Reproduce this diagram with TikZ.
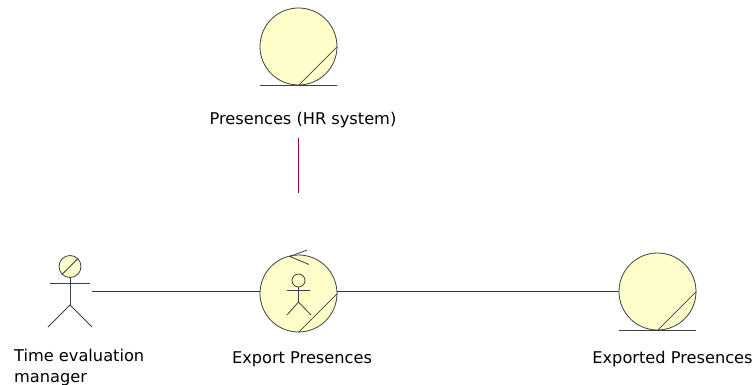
\documentclass[tikz,border=0pt]{standalone}
\usepackage{fontspec}
\setmainfont{DejaVu Sans}
\usetikzlibrary{positioning}
\definecolor{fillyellow}{RGB}{255,255,204}
\definecolor{linkred}{RGB}{153,0,51}
\definecolor{inkgrey}{RGB}{64,64,64}
\tikzset{
	entity/.style={circle,draw=inkgrey,line width=0.8pt,fill=fillyellow,minimum size=77pt,inner sep=0pt},
	head/.style={circle,draw=inkgrey,line width=0.8pt,fill=fillyellow,minimum size=22pt,inner sep=0pt},
	smallhead/.style={circle,draw=inkgrey,line width=0.8pt,minimum size=13pt,inner sep=0pt},
	stroke/.style={draw=inkgrey,line width=0.8pt},
	link/.style={draw=linkred,line width=0.7pt},
	caption/.style={font=\fontsize{16.2}{21}\selectfont,inner sep=0pt,text=black}
}

\begin{document}
\begin{tikzpicture}[x=1pt,y=-1pt]
	\useasboundingbox (0,0) rectangle (755,385);

	% Presences (HR system)
	\node[entity] (hr) at (298.5,46.5) {};
	\draw[stroke] (hr.south) -- (hr.east);
	\draw[stroke] ([xshift=-38.5pt]hr.south) -- ([xshift=38.5pt]hr.south);
	\node[caption] (hrtext) at (303,120) {Presences (HR system)};

	% Actor
	\node[head] (actor) at (70,266.5) {};
	\draw[stroke] (actor.south west) -- (actor.north east);
	\coordinate (hip) at (70,305);
	\coordinate (armleft) at (50,283.5);
	\coordinate (armright) at (90,283.5);
	\coordinate (legleft) at (48,327);
	\coordinate (legright) at (92,327);
	\draw[stroke] (actor.south) -- (hip);
	\draw[stroke] (armleft) -- (armright);
	\draw[stroke] (legleft) -- (hip) -- (legright);
	\node[caption,align=left,anchor=north west] (actortext) at (14,349) {Time evaluation\\manager};

	% Export Presences
	\node[entity] (export) at (298.5,293.5) {};
	\draw[stroke] (export.south) -- (export.east);
	\draw[stroke] (307,250) -- (290,256.5) -- (309,264.5);
	\node[smallhead] (minihead) at (298.5,280.5) {};
	\coordinate (minihip) at (298.5,302);
	\draw[stroke] (minihead.south) -- (minihip);
	\draw[stroke] (287,290) -- (310,290);
	\draw[stroke] (287,315) -- (minihip) -- (311,315);
	\node[caption] (exporttext) at (302,359.5) {Export Presences};

	% Exported Presences
	\node[entity] (exported) at (657.5,291.5) {};
	\draw[stroke] (exported.south) -- (exported.east);
	\draw[stroke] ([xshift=-38.5pt]exported.south) -- ([xshift=38.5pt]exported.south);
	\node[caption] (exportedtext) at (672.5,359.5) {Exported Presences};

	% Connectors
	\coordinate (linktop) at (298.5,138);
	\coordinate (linkbottom) at (298.5,193);
	\coordinate (actorend) at (92,291.5);
	\draw[link] (linktop) -- (linkbottom);
	\draw[link] (actorend) -- (actorend -| export.west);
	\draw[link] (actorend -| export.east) -- (exported.west);
\end{tikzpicture}
\end{document}
